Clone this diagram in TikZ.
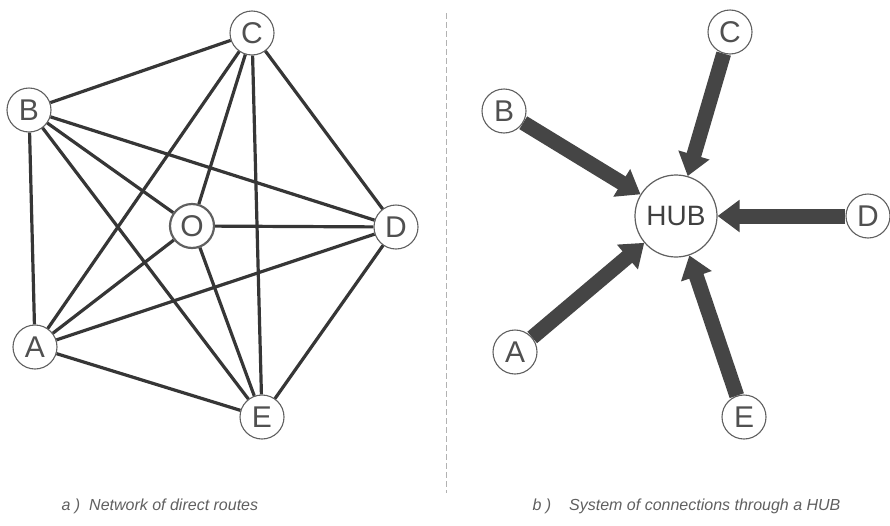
\documentclass[tikz,border=0pt]{standalone}
\usepackage{fontspec}
\setmainfont{Liberation Sans}
\usetikzlibrary{arrows.meta}
\definecolor{edgecol}{HTML}{363636}
\definecolor{ringcol}{HTML}{606060}
\definecolor{txtcol}{HTML}{505050}
\definecolor{arrcol}{HTML}{454545}
\definecolor{capcol}{HTML}{606060}
\begin{document}
\begin{tikzpicture}[x=1pt,y=-1pt,
  stn/.style={circle,draw=ringcol,line width=1.1pt,fill=white,minimum size=44pt,inner sep=0pt,
    text=txtcol,font=\fontsize{30}{30}\selectfont},
  hubnode/.style={circle,draw=ringcol,line width=1.2pt,fill=white,minimum size=82pt,inner sep=0pt,
    text=txtcol!80!black,font=\fontsize{28}{28}\selectfont},
  route/.style={draw=edgecol,line width=3.2pt},
  feed/.style={draw=arrcol,line width=15pt,-{Triangle[width=31pt,length=22pt]}},
  captxt/.style={anchor=base west,text=capcol,font=\fontsize{16}{16}\selectfont\itshape},
  divider/.style={draw=gray!60,line width=0.8pt,dash pattern=on 6pt off 3pt}]
\useasboundingbox (0,0) rectangle (890,525);
\fill[white] (0,0) rectangle (890,525);

% ---- left: network of direct routes
\node[stn] (lC) at (252,33) {C};
\node[stn] (lB) at (29,110) {B};
\node[stn,line width=2.2pt] (lO) at (192,226) {O};
\node[stn] (lD) at (396,227) {D};
\node[stn] (lA) at (35,347) {A};
\node[stn] (lE) at (262,417) {E};

\foreach \u/\v in {lB/lC,lB/lA,lB/lD,lB/lO,lB/lE,lC/lA,lC/lO,lC/lE,lC/lD,lO/lD,lO/lA,lO/lE,lA/lD,lA/lE,lE/lD}
  \draw[route] (\u) -- (\v);

% ---- divider
\coordinate (dtop) at (446,13);
\coordinate (dbot) at (446,493);
\draw[divider] (dtop) -- (dbot);

% ---- right: connections through a hub
\node[hubnode] (hub) at (676,216) {HUB};
\node[stn] (rC) at (730,32) {C};
\node[stn] (rB) at (504,111) {B};
\node[stn] (rD) at (868,216) {D};
\node[stn] (rA) at (515,352) {A};
\node[stn] (rE) at (744,417) {E};

\foreach \s in {rB,rC,rD,rA,rE}
  \draw[feed] (\s) -- (hub);

% ---- captions
\node[captxt] (capa) at (58,510) {a )\hspace{9pt}Network of direct routes};
\node[captxt] (capb) at (529,510) {b )\hspace{18pt}System of connections through a HUB};
\end{tikzpicture}
\end{document}
